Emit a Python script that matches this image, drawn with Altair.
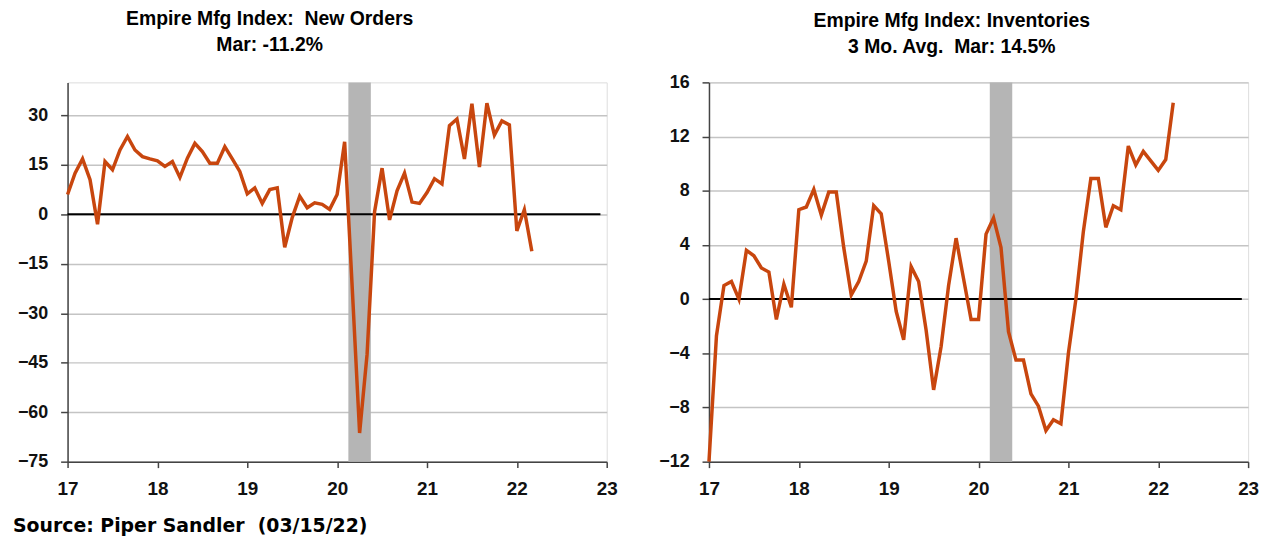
import altair as alt
import pandas as pd

# ---- data ----
year_ticks = [17, 18, 19, 20, 21, 22, 23]
months = list(range(63))  # Jan 2017 .. Mar 2022

new_orders = [
    6.0, 12.5, 16.8, 10.5, -3.0, 16.0, 13.5, 19.5, 23.6, 19.5, 17.5, 16.8,   # 2017
    16.2, 14.5, 16.0, 11.2, 17.0, 21.5, 19.0, 15.5, 15.5, 20.5, 16.8, 13.0,  # 2018
    6.2, 8.0, 3.3, 7.5, 8.0, -10.0, -1.0, 5.5, 2.0, 3.5, 3.0, 1.5,           # 2019
    6.0, 22.0, -21.6, -66.3, -42.4, 0.8, 14.0, -1.7, 7.1, 12.5, 3.7, 3.3,    # 2020
    6.6, 10.8, 9.2, 26.9, 28.9, 16.8, 33.5, 14.3, 33.7, 24.0, 28.3, 27.1,    # 2021
    -5.0, 1.4, -11.2,                                                        # 2022
]

inventories = [
    -12.0, -2.7, 1.0, 1.3, 0.0, 3.6, 3.2, 2.3, 2.0, -1.5, 1.1, -0.6,         # 2017
    6.6, 6.8, 8.1, 6.2, 7.9, 7.9, 3.8, 0.3, 1.3, 2.8, 6.9, 6.3,              # 2018
    2.8, -0.9, -3.0, 2.4, 1.3, -2.3, -6.7, -3.5, 1.0, 4.5, 1.5, -1.5,        # 2019
    -1.5, 4.8, 6.0, 3.8, -2.4, -4.5, -4.5, -7.0, -7.9, -9.7, -8.9, -9.2,     # 2020
    -4.0, 0.0, 5.0, 8.9, 8.9, 5.3, 6.9, 6.6, 11.3, 9.9, 10.9, 10.2,          # 2021
    9.5, 10.3, 14.5,                                                         # 2022
]

no_ticks = [-75, -60, -45, -30, -15, 0, 15, 30]
inv_ticks = [-12, -8, -4, 0, 4, 8, 12, 16]

recession_start = [20.125]
recession_end = [20.375]

NB = "\u00a0"
left_title = ["Empire Mfg Index:" + NB + NB + "New Orders", "Mar: -11.2%"]
right_title = ["Empire Mfg Index: Inventories", "3 Mo. Avg." + NB + NB + "Mar: 14.5%"]
source_text = ["Source: Piper Sandler" + NB + NB + "(03/15/22)"]

# ---- build ----
t = [17 + m / 12 for m in months]
df_no = pd.DataFrame({"t": t, "v": new_orders})
df_inv = pd.DataFrame({"t": t, "v": inventories})
df_rec = pd.DataFrame({"x0": recession_start, "x1": recession_end})
df_zero = pd.DataFrame({"x0": [17.0], "x1": [22.93], "y": [0]})
df_src = pd.DataFrame({"s": source_text})

W, H = 543, 382
FONT = "Liberation Sans, Arial"
LINE_COLOR = "#c8460e"


def panel(df, domain, ticks, title_lines, dx, offset, with_source=False):
    xscale = alt.Scale(domain=[17, 23], nice=False, zero=False)
    yscale = alt.Scale(domain=domain, nice=False, zero=False)
    xaxis = alt.Axis(values=year_ticks, format="d", grid=False, labelFlush=False,
                     domainColor="#444", domainWidth=1.5, tickColor="#444",
                     tickWidth=1.5, tickSize=6, labelPadding=12,
                     labelFontSize=19, labelFont=FONT, labelFontWeight="bold",
                     labelColor="#111", title=None)
    yaxis = alt.Axis(values=ticks, grid=True, gridColor="#c4c4c4", gridWidth=1.5,
                     domainColor="#444", domainWidth=1.5, tickColor="#444",
                     tickWidth=1.5, tickSize=7, labelPadding=13,
                     labelFontSize=18, labelFont=FONT, labelFontWeight="bold",
                     labelColor="#111", title=None)

    rec = alt.Chart(df_rec).mark_rect(color="#b5b5b5").encode(
        x=alt.X("x0:Q", scale=xscale, axis=xaxis, title=None),
        x2="x1:Q",
        y=alt.value(0),
        y2=alt.value(H),
    )
    zero = alt.Chart(df_zero).mark_rule(color="#000000", strokeWidth=2).encode(
        x=alt.X("x0:Q", scale=xscale, title=None),
        x2="x1:Q",
        y=alt.Y("y:Q", scale=yscale, axis=yaxis, title=None),
    )
    line = alt.Chart(df).mark_line(color=LINE_COLOR, strokeWidth=3.5,
                                   strokeJoin="miter").encode(
        x=alt.X("t:Q", scale=xscale, title=None),
        y=alt.Y("v:Q", scale=yscale, title=None),
    )
    layers = [rec, zero, line]
    if with_source:
        src = alt.Chart(df_src).mark_text(
            align="left", baseline="middle", fontSize=19, fontWeight="bold",
            font="DejaVu Sans", color="#000"
        ).encode(text="s:N", x=alt.value(-55), y=alt.value(447))
        layers.append(src)
    return alt.layer(*layers).properties(
        width=W, height=H,
        title=alt.TitleParams(text=title_lines, anchor="middle", frame="group",
                              dx=dx, fontSize=19.5, font=FONT, fontWeight="bold",
                              color="#000", lineHeight=26, offset=offset),
    )


left = panel(df_no, [-75, 40], no_ticks, left_title, -68, 27, with_source=True)
right = panel(df_inv, [-12, 16], inv_ticks, right_title, -27, 16)

chart = alt.hconcat(left, right, spacing=39).properties(
    padding={"left": 4, "top": -1, "right": 4, "bottom": 4}
).configure_view(fill="#f2f2f2", stroke=None).configure(background="#ffffff")

chart.save("out.html", embed_options={"renderer": "svg", "actions": False})
